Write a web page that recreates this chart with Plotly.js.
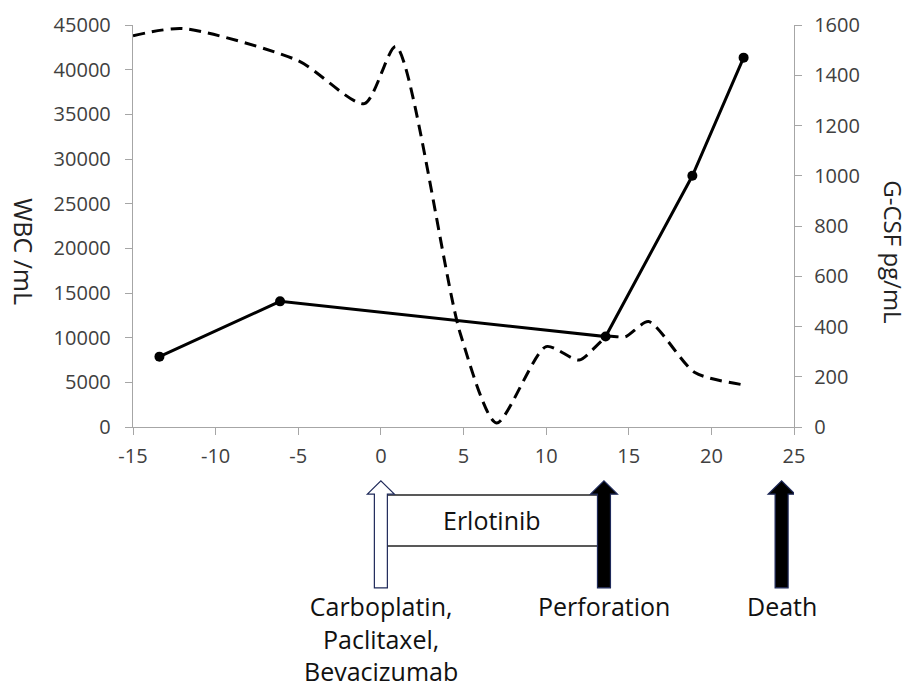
<!DOCTYPE html>
<html>
<head>
<meta charset="utf-8">
<script src="https://cdn.plot.ly/plotly-3.0.1.min.js"></script>
<style>html,body{margin:0;padding:0;background:#fff;}#chart{width:912px;height:690px;}</style>
</head>
<body>
<div id="chart"></div>
<script>
// WBC (dashed, left axis)
const wbcDays = [-15, -12, -5, -1, 0.9, 4.8, 7, 10, 12, 13.7, 14.8, 16.2, 19, 22];
const wbcValues = [43800, 44600, 41000, 36200, 42600, 10500, 450, 9000, 7500, 10100, 10100, 11800, 6100, 4700];
// G-CSF (solid with markers, right axis)
const gcsfDays = [-13.4, -6.1, 13.6, 18.85, 21.95];
const gcsfValues = [280, 500, 360, 1000, 1470];
// Axis ticks
const xTickVals = [-15, -10, -5, 0, 5, 10, 15, 20, 25];
const xTickText = ["-15", "-10", "-5", "0", "5", "10", "15", "20", "25"];
const wbcTickVals = [0, 5000, 10000, 15000, 20000, 25000, 30000, 35000, 40000, 45000];
const gcsfTickVals = [0, 200, 400, 600, 800, 1000, 1200, 1400, 1600];
// Treatment events
const eventDays = [0, 13.5, 24.25];
const eventLabels = ["Carboplatin,<br>Paclitaxel,<br>Bevacizumab", "Perforation", "Death"];
const eventFill = ["white", "black", "black"];
const erlotinibLabel = "Erlotinib";

const FONT = "Open Sans, Noto Sans, sans-serif";
const AX = "#a6a6a6";
const TXT = "#404040";

const traces = [
  {x: wbcDays, y: wbcValues, type: "scatter", mode: "lines", name: "WBC",
   line: {color: "black", width: 3, dash: "12px,7px", shape: "spline", smoothing: 0.7}, yaxis: "y"},
  {x: gcsfDays, y: gcsfValues, type: "scatter", mode: "lines+markers", name: "G-CSF",
   line: {color: "black", width: 3}, marker: {color: "black", size: 10}, yaxis: "y2"}
];

// geometry in paper units below the plot
const yTip = -0.134, yHead = -0.167, yBot = -0.400;
const arrowPath = `M -6.5,${yBot} L -6.5,${yHead} L -13.5,${yHead} L 0,${yTip} L 13.5,${yHead} L 6.5,${yHead} L 6.5,${yBot} Z`;

const shapes = [
  {type: "line", xref: "x", yref: "paper", x0: eventDays[0], x1: eventDays[1], y0: -0.169, y1: -0.169, line: {color: "#222", width: 1.5}},
  {type: "line", xref: "x", yref: "paper", x0: eventDays[0], x1: eventDays[1], y0: -0.296, y1: -0.296, line: {color: "#222", width: 1.5}}
];
eventDays.forEach((d, i) => {
  shapes.push({type: "path", xref: "x", yref: "paper", xsizemode: "pixel", xanchor: d,
    path: arrowPath, fillcolor: eventFill[i], line: {color: "#1f2a5a", width: 1.2}});
});

const annotations = [
  {text: "WBC /mL", xref: "paper", yref: "paper", x: -0.165, y: 0.435, xanchor: "center", yanchor: "middle",
   textangle: 90, showarrow: false, font: {family: FONT, size: 25, color: "#222"}},
  {text: "G-CSF pg/mL", xref: "paper", yref: "paper", x: 1.151, y: 0.435, xanchor: "center", yanchor: "middle",
   textangle: 90, showarrow: false, font: {family: FONT, size: 24, color: "#222"}},
  {text: erlotinibLabel, xref: "x", yref: "paper", x: (eventDays[0] + eventDays[1]) / 2, y: -0.232,
   xanchor: "center", yanchor: "middle", showarrow: false, font: {family: FONT, size: 25, color: "#111"}}
];
eventDays.forEach((d, i) => {
  annotations.push({text: eventLabels[i], xref: "x", yref: "paper", x: d, y: -0.398, xanchor: "center", yanchor: "top",
    showarrow: false, align: "center", font: {family: FONT, size: 25, color: "#111"}});
});

const tickStyle = {showline: true, linecolor: AX, linewidth: 1.2, ticks: "outside", ticklen: 7, tickcolor: AX,
  showgrid: false, zeroline: false, tickfont: {family: FONT, size: 20, color: TXT}};

const layout = {
  width: 912, height: 690,
  margin: {l: 133, r: 118, t: 25, b: 263},
  paper_bgcolor: "white", plot_bgcolor: "white",
  showlegend: false,
  font: {family: FONT, size: 20, color: TXT},
  xaxis: Object.assign({range: [-15, 25], tickmode: "array", tickvals: xTickVals, ticktext: xTickText, ticklabelstandoff: 4}, tickStyle),
  yaxis: Object.assign({range: [0, 45000], tickmode: "array", tickvals: wbcTickVals, tickformat: "d", ticklabelstandoff: 10}, tickStyle),
  yaxis2: Object.assign({range: [0, 1600], tickmode: "array", tickvals: gcsfTickVals, tickformat: "d",
    overlaying: "y", side: "right", ticklabelstandoff: 8}, tickStyle),
  shapes: shapes,
  annotations: annotations
};

Plotly.newPlot("chart", traces, layout, {displayModeBar: false, staticPlot: true});
</script>
</body>
</html>
